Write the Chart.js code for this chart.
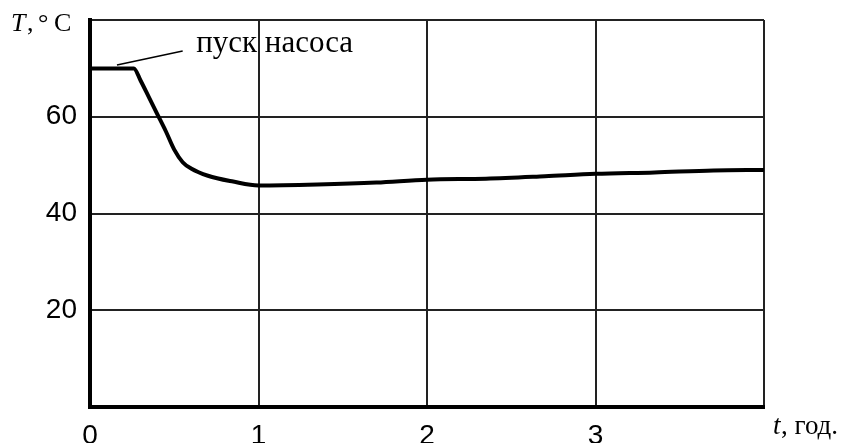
<!DOCTYPE html>
<html>
<head>
<meta charset="utf-8">
<script src="https://cdn.jsdelivr.net/npm/chart.js@4/dist/chart.umd.min.js"></script>
<style>
  html, body { margin: 0; padding: 0; background: #fff; }
  #wrap { width: 845px; height: 443px; }
</style>
</head>
<body>
<div id="wrap"><canvas id="myChart" width="845" height="443"></canvas></div>
<script>
// time, hours
const tHours = [0, 0.26, 0.3, 0.35, 0.4, 0.45, 0.5, 0.55, 0.6, 0.7, 0.85, 1.0, 1.35, 1.7, 2.0, 2.35, 2.7, 3.0, 3.35, 3.7, 4.0];
// temperature, °C
const tempC = [70, 70, 67.5, 64, 60.5, 57, 53.2, 50.6, 49.3, 47.8, 46.6, 45.8, 46.0, 46.4, 47.0, 47.2, 47.7, 48.2, 48.5, 48.9, 49.0];
const xTicks = [0, 1, 2, 3];
const yTicks = [20, 40, 60];

const points = tHours.map((t, i) => ({ x: t, y: tempC[i] }));

// captions drawn on top: axis names and the "pump start" callout
const captions = {
  id: 'captions',
  afterDraw(chart) {
    const ctx = chart.ctx;
    const xs = chart.scales.x, ys = chart.scales.y;
    ctx.save();
    ctx.fillStyle = '#000';
    ctx.textBaseline = 'alphabetic';

    // leader line
    ctx.strokeStyle = '#000';
    ctx.lineWidth = 1.5;
    ctx.beginPath();
    ctx.moveTo(xs.getPixelForValue(0.16), ys.getPixelForValue(70.7));
    ctx.lineTo(xs.getPixelForValue(0.55), ys.getPixelForValue(73.6));
    ctx.stroke();

    ctx.font = '31px "Liberation Serif", serif';
    ctx.fillText('пуск насоса', xs.getPixelForValue(0.63), ys.getPixelForValue(73.4));

    // y axis name
    ctx.font = 'italic 26px "Liberation Serif", serif';
    ctx.fillText('T', 11, 31);
    ctx.font = '26px "Liberation Serif", serif';
    ctx.fillText(',', 27, 31);
    ctx.fillText('°', 38, 31);
    ctx.fillText('C', 54, 31);

    // x axis name
    ctx.font = 'italic 27px "Liberation Serif", serif';
    ctx.fillText('t', 773, 434);
    ctx.font = '27px "Liberation Serif", serif';
    ctx.fillText(', год.', 781, 434);
    ctx.restore();
  }
};

new Chart(document.getElementById('myChart'), {
  type: 'line',
  data: {
    datasets: [{
      data: points,
      borderColor: '#000',
      borderWidth: 4,
      pointRadius: 0,
      cubicInterpolationMode: 'monotone'
    }]
  },
  options: {
    responsive: false,
    animation: false,
    layout: { padding: { top: 20, right: 81, left: 0, bottom: 0 } },
    plugins: { legend: { display: false }, tooltip: { enabled: false } },
    scales: {
      x: {
        type: 'linear',
        min: 0,
        max: 4,
        afterFit: s => { s.height = 36; s.paddingLeft = 0; s.paddingRight = 0; },
        afterBuildTicks: s => { s.ticks = xTicks.concat([4]).map(v => ({ value: v })); },
        ticks: {
          color: '#000',
          padding: 12,
          maxRotation: 0,
          font: { family: '"Liberation Sans", sans-serif', size: 28 },
          callback: v => (xTicks.includes(v) ? String(v) : '')
        },
        grid: { color: '#222', lineWidth: 2, drawTicks: false },
        border: { color: '#000', width: 4 }
      },
      y: {
        min: 0,
        max: 80,
        afterFit: s => { s.width = 90; s.paddingTop = 0; s.paddingBottom = 0; },
        afterBuildTicks: s => { s.ticks = [0].concat(yTicks, [80]).map(v => ({ value: v })); },
        ticks: {
          color: '#000',
          padding: 13,
          font: { family: '"Liberation Sans", sans-serif', size: 28 },
          callback: v => (yTicks.includes(v) ? String(v) : '')
        },
        grid: { color: '#222', lineWidth: 2, drawTicks: false },
        border: { color: '#000', width: 4 }
      }
    }
  },
  plugins: [captions]
});
</script>
</body>
</html>
